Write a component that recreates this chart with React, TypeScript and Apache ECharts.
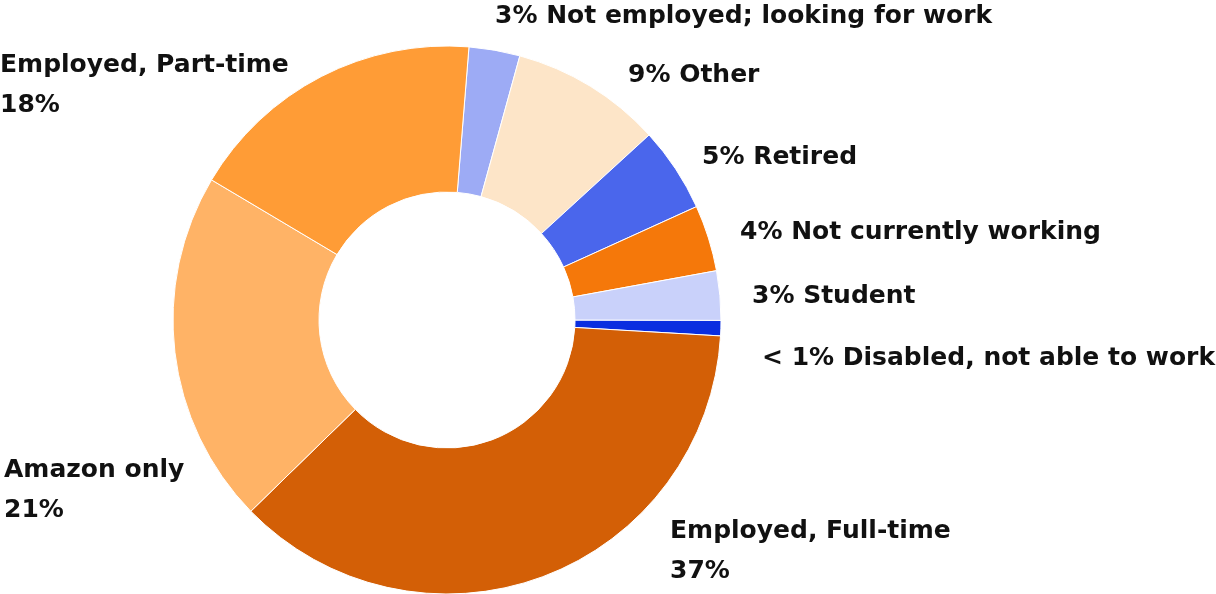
import { useEffect, useRef } from 'react'
import * as echarts from 'echarts'

const categories = [
  'Not employed; looking for work',
  'Other',
  'Retired',
  'Not currently working',
  'Student',
  'Disabled, not able to work',
  'Employed, Full-time',
  'Amazon only',
  'Employed, Part-time',
]
const values = [3.0, 8.9, 5.0, 3.9, 2.9, 0.9, 36.7, 20.8, 17.7]
const pctLabels = ['3%', '9%', '5%', '4%', '3%', '< 1%', '37%', '21%', '18%']
const colors = ['#9dabf5', '#fde5c8', '#4a66ec', '#f5780a', '#c9d1fa', '#0a2ee0', '#d35f06', '#ffb366', '#ff9c36']

// label anchors: left x, middle y, and whether the name goes on top
const labelPos = [
  { x: 495, y: 14, stacked: false },
  { x: 628, y: 73, stacked: false },
  { x: 702, y: 155, stacked: false },
  { x: 740, y: 230, stacked: false },
  { x: 752, y: 294, stacked: false },
  { x: 762, y: 356, stacked: false },
  { x: 670, y: 549, stacked: true },
  { x: 4, y: 488, stacked: true },
  { x: 0, y: 83, stacked: true },
]

export default function App() {
  const ref = useRef<HTMLDivElement | null>(null)

  useEffect(() => {
    if (!ref.current) return
    const chart = echarts.init(ref.current, null, { renderer: 'svg' })
    chart.setOption({
      animation: false,
      series: [
        {
          type: 'pie',
          center: [447, 320],
          radius: [128, 274],
          startAngle: 85.4,
          clockwise: true,
          itemStyle: { borderColor: '#ffffff', borderWidth: 1 },
          labelLine: { show: false },
          label: {
            show: true,
            position: 'outside',
            overflow: 'none',
            color: '#111111',
            fontFamily: 'DejaVu Sans',
            fontWeight: 'bold',
            fontSize: 25,
            lineHeight: 40,
            formatter: (p: any) =>
              labelPos[p.dataIndex].stacked
                ? `${p.name}\n${pctLabels[p.dataIndex]}`
                : `${pctLabels[p.dataIndex]} ${p.name}`,
          },
          labelLayout: (p: any) => ({
            x: labelPos[p.dataIndex].x,
            y: labelPos[p.dataIndex].y,
            align: 'left',
            verticalAlign: 'middle',
          }),
          data: categories.map((name, i) => ({
            name,
            value: values[i],
            itemStyle: { color: colors[i] },
          })),
        },
      ],
    })
    return () => chart.dispose()
  }, [])

  return <div ref={ref} style={{ position: 'fixed', left: 0, top: 0, width: 1216, height: 594 }} />
}
